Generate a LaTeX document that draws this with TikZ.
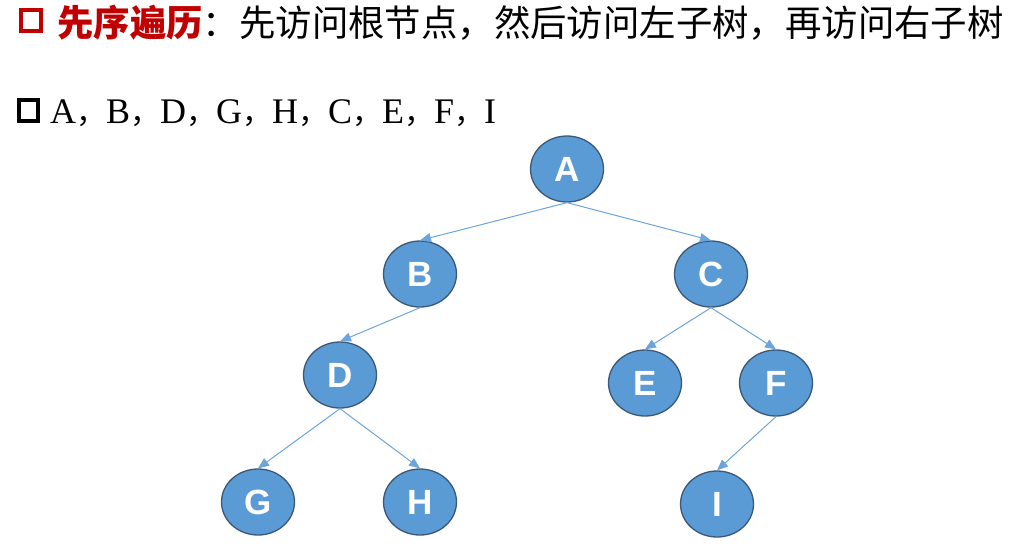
\documentclass[tikz,border=0pt]{standalone}
\usepackage{fontspec}
\usepackage{tikz}
\usetikzlibrary{shapes.geometric,arrows.meta}
\setmainfont{Liberation Serif}
\newfontfamily\cjk{Noto Sans CJK SC}
\newfontfamily\nodefont{Liberation Sans}
\definecolor{treefill}{RGB}{91,155,213}
\definecolor{treeline}{RGB}{58,88,120}
\definecolor{edgeblue}{RGB}{108,164,220}
\definecolor{titlered}{RGB}{192,0,0}
\newcommand{\sep}{{\cjk\fontsize{30}{30}\selectfont ，}}

\begin{document}
\begin{tikzpicture}[x=1pt,y=-1pt]
\tikzstyle{vertex}=[draw=treeline,line width=1.3pt,fill=treefill,shape=ellipse,
  minimum width=73pt,minimum height=66pt,inner sep=0pt,
  text=white,font=\nodefont\bfseries\fontsize{35}{35}\selectfont];
\tikzstyle{link}=[color=edgeblue,line width=1pt,-{Triangle[length=11pt,width=9pt]}];
\useasboundingbox (0,0) rectangle (1035,558);
% heading lines
\draw[titlered,line width=4pt] (21,10) rectangle (41,31);
\node[anchor=base west,inner sep=0pt] (title) at (57,36)
{\fontsize{36.4}{40}\selectfont{\cjk\bfseries\color{titlered}先序遍历}{\cjk ：先访问根节点，然后访问左子树，再访问右子树}};
\draw[black,line width=4pt] (19,100) rectangle (38,121);
\node[anchor=base west,inner sep=0pt] (order) at (50,123)
{\fontsize{36}{40}\selectfont A\sep B\sep D\sep G\sep H\sep C\sep E\sep F\sep I};
% tree
\path (567,169) node[vertex] (A) {A}
      (420,274) node[vertex] (B) {B}
      (711,274) node[vertex] (C) {C}
      (340,375) node[vertex] (D) {D}
      (645,383) node[vertex] (E) {E}
      (776,383) node[vertex] (F) {F}
      (258,502) node[vertex] (G) {G}
      (420,502) node[vertex] (H) {H}
      (717,504) node[vertex] (I) {I};
\path
(A.south) edge[link] (B.north) (A.south) edge[link] (C.north)
(B.south) edge[link] (D.north)
(C.south) edge[link] (E.north) (C.south) edge[link] (F.north)
(D.south) edge[link] (G.north) (D.south) edge[link] (H.north)
(F.south) edge[link] (I.north)
;
\end{tikzpicture}
\end{document}
